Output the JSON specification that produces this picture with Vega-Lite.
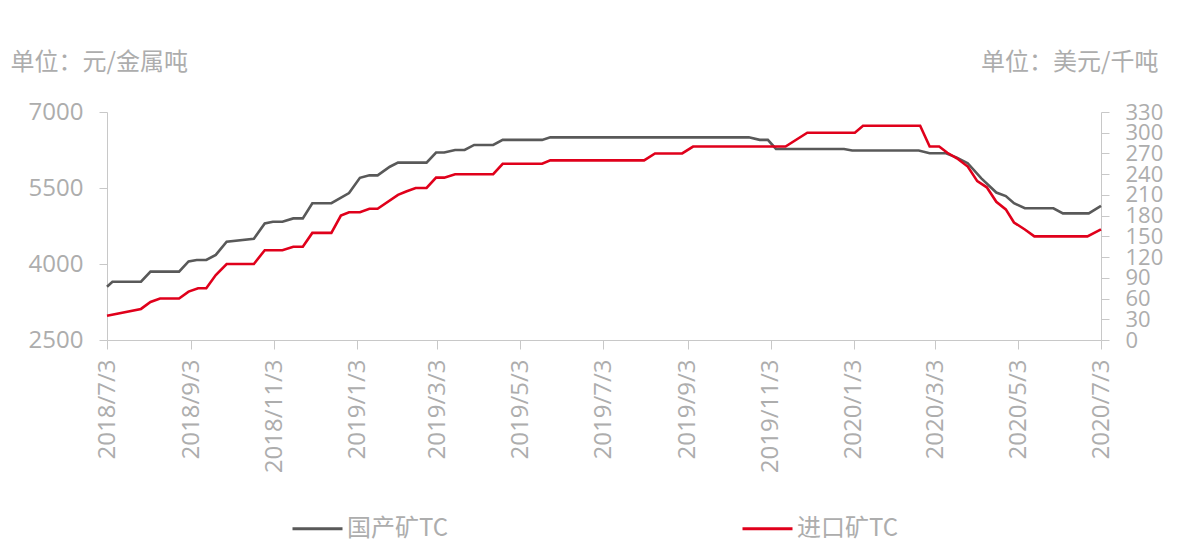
{
  "$schema": "https://vega.github.io/schema/vega-lite/v6.json",
  "width": 994,
  "height": 228,
  "autosize": {"type": "none"},
  "padding": {"left": 107, "top": 112, "right": 84, "bottom": 203},
  "background": "#ffffff",
  "config": {
    "view": {"stroke": null},
    "font": "Open Sans, Noto Sans CJK SC",
    "axis": {
      "grid": false,
      "domainColor": "#c8c8c8",
      "tickColor": "#c8c8c8",
      "labelColor": "#adadad",
      "titleColor": "#adadad",
      "labelFont": "Open Sans, Noto Sans CJK SC",
      "titleFont": "Noto Sans CJK SC",
      "labelFontSize": 24,
      "titleFontSize": 24,
      "titleFontWeight": "normal",
      "tickSize": 8
    }
  },
  "data": {
    "values": [
      {"date": "2018-07-03", "series": "国产矿TC", "value": 3550},
      {"date": "2018-07-07", "series": "国产矿TC", "value": 3650},
      {"date": "2018-07-28", "series": "国产矿TC", "value": 3650},
      {"date": "2018-08-04", "series": "国产矿TC", "value": 3850},
      {"date": "2018-08-25", "series": "国产矿TC", "value": 3850},
      {"date": "2018-09-01", "series": "国产矿TC", "value": 4050},
      {"date": "2018-09-07", "series": "国产矿TC", "value": 4080},
      {"date": "2018-09-14", "series": "国产矿TC", "value": 4080},
      {"date": "2018-09-21", "series": "国产矿TC", "value": 4180},
      {"date": "2018-09-29", "series": "国产矿TC", "value": 4440},
      {"date": "2018-10-19", "series": "国产矿TC", "value": 4500},
      {"date": "2018-10-27", "series": "国产矿TC", "value": 4800},
      {"date": "2018-11-02", "series": "国产矿TC", "value": 4835},
      {"date": "2018-11-09", "series": "国产矿TC", "value": 4835},
      {"date": "2018-11-17", "series": "国产矿TC", "value": 4900},
      {"date": "2018-11-24", "series": "国产矿TC", "value": 4900},
      {"date": "2018-12-01", "series": "国产矿TC", "value": 5200},
      {"date": "2018-12-15", "series": "国产矿TC", "value": 5200},
      {"date": "2018-12-28", "series": "国产矿TC", "value": 5400},
      {"date": "2019-01-05", "series": "国产矿TC", "value": 5700},
      {"date": "2019-01-12", "series": "国产矿TC", "value": 5750},
      {"date": "2019-01-18", "series": "国产矿TC", "value": 5750},
      {"date": "2019-01-27", "series": "国产矿TC", "value": 5920},
      {"date": "2019-02-02", "series": "国产矿TC", "value": 6000},
      {"date": "2019-02-23", "series": "国产矿TC", "value": 6000},
      {"date": "2019-03-02", "series": "国产矿TC", "value": 6200},
      {"date": "2019-03-08", "series": "国产矿TC", "value": 6200},
      {"date": "2019-03-16", "series": "国产矿TC", "value": 6250},
      {"date": "2019-03-23", "series": "国产矿TC", "value": 6250},
      {"date": "2019-03-30", "series": "国产矿TC", "value": 6350},
      {"date": "2019-04-13", "series": "国产矿TC", "value": 6350},
      {"date": "2019-04-20", "series": "国产矿TC", "value": 6450},
      {"date": "2019-05-19", "series": "国产矿TC", "value": 6450},
      {"date": "2019-05-25", "series": "国产矿TC", "value": 6500},
      {"date": "2019-10-18", "series": "国产矿TC", "value": 6500},
      {"date": "2019-10-26", "series": "国产矿TC", "value": 6450},
      {"date": "2019-11-01", "series": "国产矿TC", "value": 6450},
      {"date": "2019-11-07", "series": "国产矿TC", "value": 6270},
      {"date": "2019-12-27", "series": "国产矿TC", "value": 6270},
      {"date": "2020-01-02", "series": "国产矿TC", "value": 6240},
      {"date": "2020-02-20", "series": "国产矿TC", "value": 6240},
      {"date": "2020-02-28", "series": "国产矿TC", "value": 6185},
      {"date": "2020-03-11", "series": "国产矿TC", "value": 6185},
      {"date": "2020-03-19", "series": "国产矿TC", "value": 6100},
      {"date": "2020-03-27", "series": "国产矿TC", "value": 5990},
      {"date": "2020-04-06", "series": "国产矿TC", "value": 5690},
      {"date": "2020-04-17", "series": "国产矿TC", "value": 5410},
      {"date": "2020-04-24", "series": "国产矿TC", "value": 5340},
      {"date": "2020-04-30", "series": "国产矿TC", "value": 5200},
      {"date": "2020-05-08", "series": "国产矿TC", "value": 5100},
      {"date": "2020-05-29", "series": "国产矿TC", "value": 5100},
      {"date": "2020-06-05", "series": "国产矿TC", "value": 5000},
      {"date": "2020-06-24", "series": "国产矿TC", "value": 5000},
      {"date": "2020-07-03", "series": "国产矿TC", "value": 5145},
      {"date": "2018-07-03", "series": "进口矿TC", "value": 35},
      {"date": "2018-07-28", "series": "进口矿TC", "value": 45},
      {"date": "2018-08-04", "series": "进口矿TC", "value": 55},
      {"date": "2018-08-11", "series": "进口矿TC", "value": 60},
      {"date": "2018-08-25", "series": "进口矿TC", "value": 60},
      {"date": "2018-09-01", "series": "进口矿TC", "value": 70},
      {"date": "2018-09-08", "series": "进口矿TC", "value": 75},
      {"date": "2018-09-14", "series": "进口矿TC", "value": 75},
      {"date": "2018-09-21", "series": "进口矿TC", "value": 94},
      {"date": "2018-09-29", "series": "进口矿TC", "value": 110},
      {"date": "2018-10-19", "series": "进口矿TC", "value": 110},
      {"date": "2018-10-27", "series": "进口矿TC", "value": 130},
      {"date": "2018-11-09", "series": "进口矿TC", "value": 130},
      {"date": "2018-11-17", "series": "进口矿TC", "value": 135},
      {"date": "2018-11-24", "series": "进口矿TC", "value": 135},
      {"date": "2018-12-01", "series": "进口矿TC", "value": 155},
      {"date": "2018-12-15", "series": "进口矿TC", "value": 155},
      {"date": "2018-12-22", "series": "进口矿TC", "value": 180},
      {"date": "2018-12-28", "series": "进口矿TC", "value": 185},
      {"date": "2019-01-05", "series": "进口矿TC", "value": 185},
      {"date": "2019-01-12", "series": "进口矿TC", "value": 190},
      {"date": "2019-01-18", "series": "进口矿TC", "value": 190},
      {"date": "2019-02-02", "series": "进口矿TC", "value": 210},
      {"date": "2019-02-08", "series": "进口矿TC", "value": 215},
      {"date": "2019-02-15", "series": "进口矿TC", "value": 220},
      {"date": "2019-02-23", "series": "进口矿TC", "value": 220},
      {"date": "2019-03-02", "series": "进口矿TC", "value": 235},
      {"date": "2019-03-08", "series": "进口矿TC", "value": 235},
      {"date": "2019-03-16", "series": "进口矿TC", "value": 240},
      {"date": "2019-04-13", "series": "进口矿TC", "value": 240},
      {"date": "2019-04-20", "series": "进口矿TC", "value": 255},
      {"date": "2019-05-19", "series": "进口矿TC", "value": 255},
      {"date": "2019-05-25", "series": "进口矿TC", "value": 260},
      {"date": "2019-08-02", "series": "进口矿TC", "value": 260},
      {"date": "2019-08-10", "series": "进口矿TC", "value": 270},
      {"date": "2019-08-30", "series": "进口矿TC", "value": 270},
      {"date": "2019-09-07", "series": "进口矿TC", "value": 280},
      {"date": "2019-11-14", "series": "进口矿TC", "value": 280},
      {"date": "2019-11-30", "series": "进口矿TC", "value": 300},
      {"date": "2020-01-04", "series": "进口矿TC", "value": 300},
      {"date": "2020-01-10", "series": "进口矿TC", "value": 310},
      {"date": "2020-02-21", "series": "进口矿TC", "value": 310},
      {"date": "2020-02-28", "series": "进口矿TC", "value": 280},
      {"date": "2020-03-06", "series": "进口矿TC", "value": 280},
      {"date": "2020-03-12", "series": "进口矿TC", "value": 271},
      {"date": "2020-03-19", "series": "进口矿TC", "value": 263},
      {"date": "2020-03-27", "series": "进口矿TC", "value": 251},
      {"date": "2020-04-03", "series": "进口矿TC", "value": 230},
      {"date": "2020-04-10", "series": "进口矿TC", "value": 221},
      {"date": "2020-04-17", "series": "进口矿TC", "value": 200},
      {"date": "2020-04-24", "series": "进口矿TC", "value": 189},
      {"date": "2020-04-30", "series": "进口矿TC", "value": 170},
      {"date": "2020-05-08", "series": "进口矿TC", "value": 160},
      {"date": "2020-05-15", "series": "进口矿TC", "value": 150},
      {"date": "2020-06-23", "series": "进口矿TC", "value": 150},
      {"date": "2020-07-03", "series": "进口矿TC", "value": 160}
    ]
  },
  "encoding": {
    "x": {
      "field": "date",
      "type": "temporal",
      "scale": {
        "type": "utc",
        "domain": [
          {"year": 2018, "month": 7, "date": 3, "utc": true},
          {"year": 2020, "month": 7, "date": 3, "utc": true}
        ]
      },
      "axis": {
        "title": null,
        "format": "%Y/%-m/%-d",
        "labelAngle": -90,
        "tickSize": 9,
        "labelPadding": 10,
        "values": [
          {"year": 2018, "month": 7, "date": 3, "utc": true},
          {"year": 2018, "month": 9, "date": 3, "utc": true},
          {"year": 2018, "month": 11, "date": 3, "utc": true},
          {"year": 2019, "month": 1, "date": 3, "utc": true},
          {"year": 2019, "month": 3, "date": 3, "utc": true},
          {"year": 2019, "month": 5, "date": 3, "utc": true},
          {"year": 2019, "month": 7, "date": 3, "utc": true},
          {"year": 2019, "month": 9, "date": 3, "utc": true},
          {"year": 2019, "month": 11, "date": 3, "utc": true},
          {"year": 2020, "month": 1, "date": 3, "utc": true},
          {"year": 2020, "month": 3, "date": 3, "utc": true},
          {"year": 2020, "month": 5, "date": 3, "utc": true},
          {"year": 2020, "month": 7, "date": 3, "utc": true}
        ]
      }
    },
    "color": {
      "field": "series",
      "type": "nominal",
      "scale": {"domain": ["国产矿TC", "进口矿TC"], "range": ["#595959", "#e0001b"]},
      "legend": {
        "title": null,
        "orient": "none",
        "legendX": 184,
        "legendY": 390,
        "direction": "horizontal",
        "symbolType": "stroke",
        "symbolSize": 2500,
        "symbolStrokeWidth": 3,
        "labelFontSize": 24,
        "labelFont": "Noto Sans CJK SC",
        "labelColor": "#adadad",
        "labelOffset": 3,
        "columnPadding": 287
      }
    }
  },
  "layer": [
    {
      "transform": [{"filter": "datum.series === '国产矿TC'"}],
      "mark": {"type": "line", "strokeWidth": 2.6},
      "encoding": {
        "y": {
          "field": "value",
          "type": "quantitative",
          "scale": {"domain": [2500, 7000], "nice": false, "zero": false},
          "axis": {
            "orient": "left",
            "format": "d",
            "values": [2500, 4000, 5500, 7000],
            "labelPadding": 16,
            "title": "单位：元/金属吨",
            "titleAngle": 0,
            "titleAlign": "left",
            "titleBaseline": "middle",
            "titleX": -97,
            "titleY": -50
          }
        }
      }
    },
    {
      "transform": [{"filter": "datum.series === '进口矿TC'"}],
      "mark": {"type": "line", "strokeWidth": 2.6},
      "encoding": {
        "y": {
          "field": "value",
          "type": "quantitative",
          "scale": {"domain": [0, 330], "nice": false},
          "axis": {
            "orient": "right",
            "values": [0, 30, 60, 90, 120, 150, 180, 210, 240, 270, 300, 330],
            "labelPadding": 16,
            "labelFontSize": 22,
            "labelOverlap": false,
            "title": "单位：美元/千吨",
            "titleAngle": 0,
            "titleAlign": "right",
            "titleBaseline": "middle",
            "titleX": 57,
            "titleY": -50
          }
        }
      }
    }
  ],
  "resolve": {"scale": {"y": "independent"}}
}
